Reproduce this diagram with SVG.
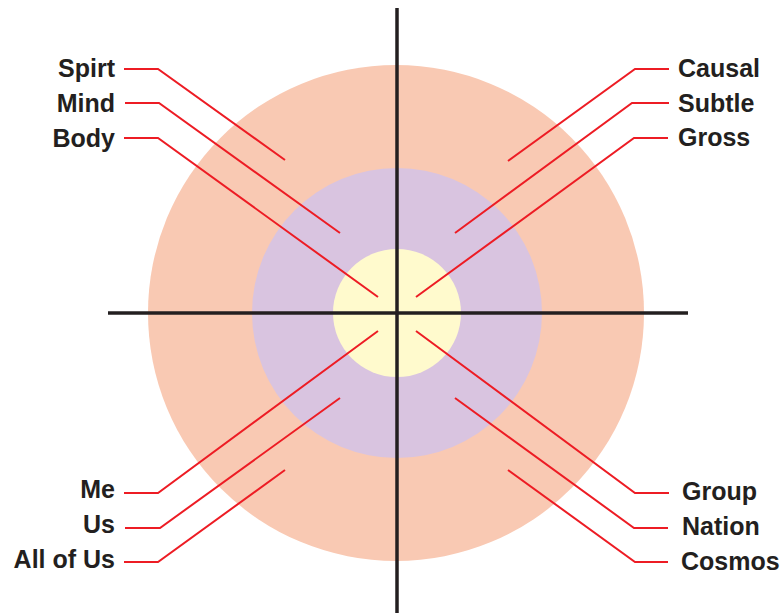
<svg xmlns="http://www.w3.org/2000/svg" width="782" height="613" viewBox="0 0 782 613">
<style>
.lbl{font-family:"Liberation Sans",Arial,sans-serif;font-weight:bold;font-size:25px;fill:#231f20}
.l{text-anchor:end}
.ld{fill:none;stroke:#ed1c24;stroke-width:2}
.ax{stroke:#231f20;stroke-width:3.5}
</style>
<rect width="782" height="613" fill="#fff"/>
<g id="outer"><circle cx="396" cy="313" r="248" fill="#f9c9b3"/></g>
<g id="middle"><circle cx="397" cy="313" r="145" fill="#d9c4e0"/></g>
<g id="inner"><circle cx="397" cy="313" r="64" fill="#fffacd"/></g>
<g id="axes">
<line class="ax" x1="397" y1="8" x2="397" y2="613"/>
<line class="ax" x1="108" y1="313" x2="688" y2="313"/>
</g>
<g id="connectors">
<polyline class="ld" points="124,69 158,69 285,160"/>
<polyline class="ld" points="125,103 159,103 340,233"/>
<polyline class="ld" points="124,138 158,138 378,297"/>
<polyline class="ld" points="669,69 635,69 508,161"/>
<polyline class="ld" points="669,103 632,103 455,233"/>
<polyline class="ld" points="668,138 634,138 416,297"/>
<polyline class="ld" points="124,493 158,493 378,331"/>
<polyline class="ld" points="125,528 160,528 340,398"/>
<polyline class="ld" points="124,562 158,562 285,470"/>
<polyline class="ld" points="669,493 635,493 416,331"/>
<polyline class="ld" points="668,528 634,528 455,398"/>
<polyline class="ld" points="668,562 635,562 508,470"/>
</g>
<g id="label-spirt"><text class="lbl l" x="115" y="77">Spirt</text></g>
<g id="label-mind"><text class="lbl l" x="115" y="112">Mind</text></g>
<g id="label-body"><text class="lbl l" x="115" y="147">Body</text></g>
<g id="label-causal"><text class="lbl" x="678" y="77">Causal</text></g>
<g id="label-subtle"><text class="lbl" x="678" y="112">Subtle</text></g>
<g id="label-gross"><text class="lbl" x="678" y="146">Gross</text></g>
<g id="label-me"><text class="lbl l" x="115" y="498">Me</text></g>
<g id="label-us"><text class="lbl l" x="115" y="533">Us</text></g>
<g id="label-allofus"><text class="lbl l" x="115" y="568">All of Us</text></g>
<g id="label-group"><text class="lbl" x="682" y="500">Group</text></g>
<g id="label-nation"><text class="lbl" x="682" y="535">Nation</text></g>
<g id="label-cosmos"><text class="lbl" x="681" y="570">Cosmos</text></g>
</svg>
